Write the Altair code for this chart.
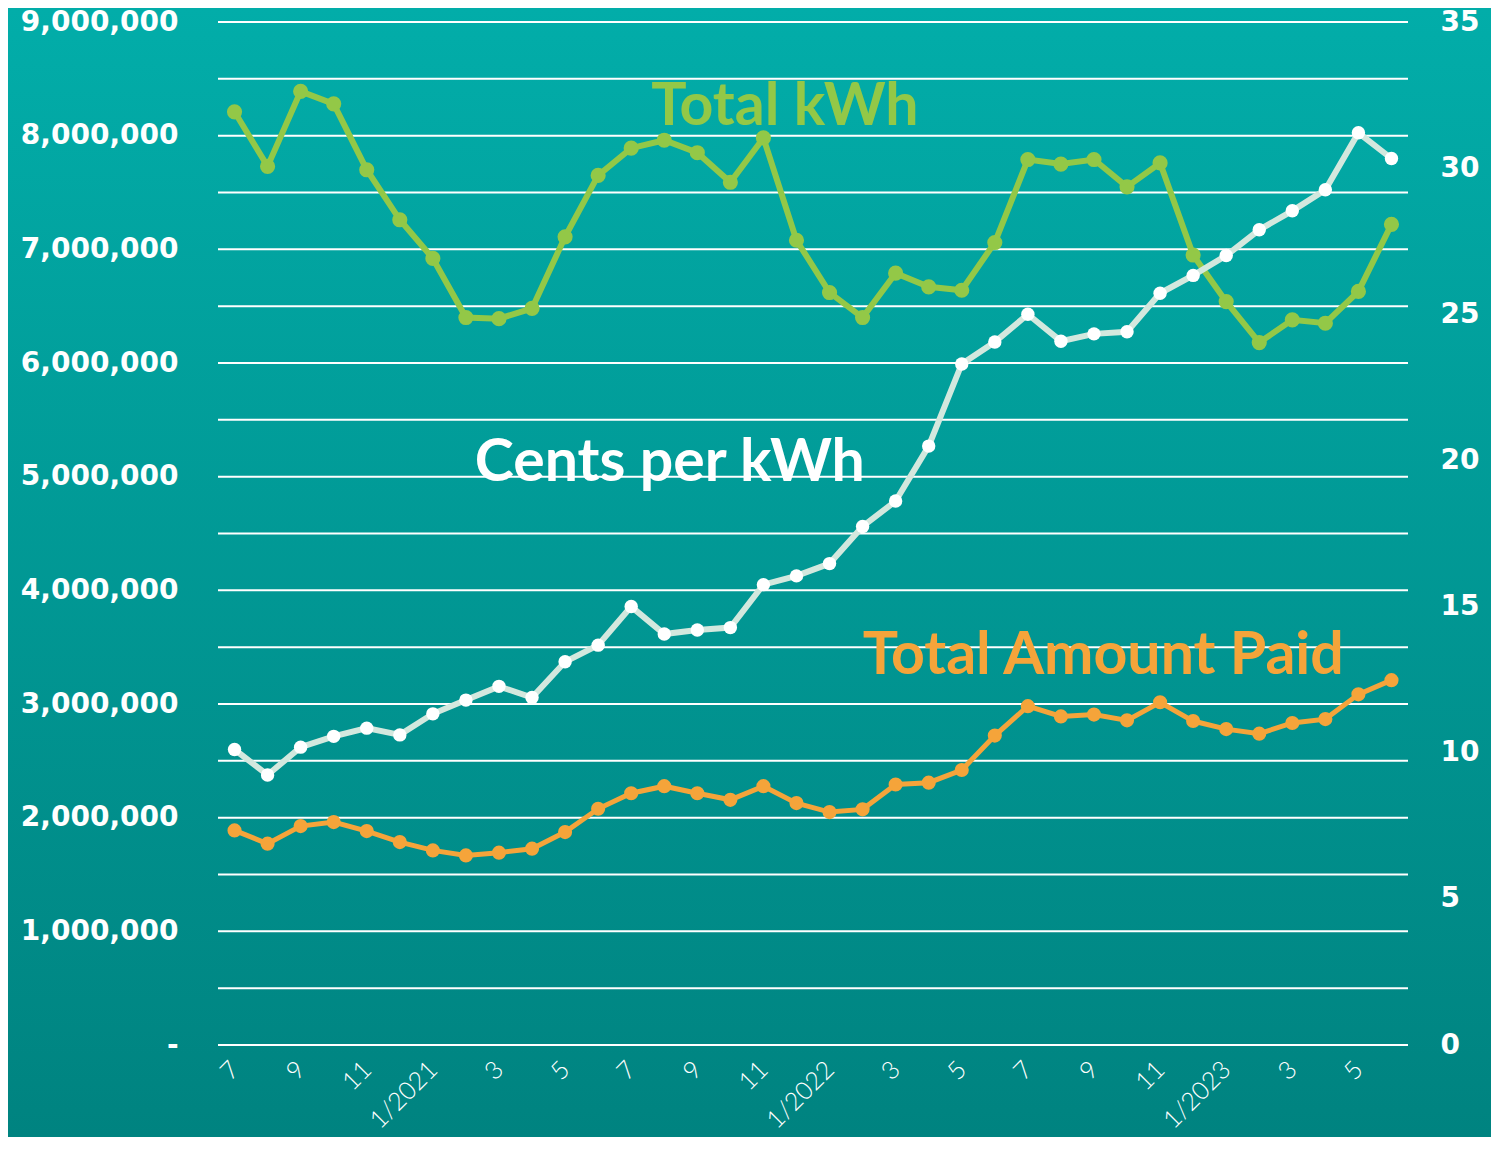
import altair as alt
import pandas as pd

# ---- data ----
month_labels = ["7", "8", "9", "10", "11", "12",
                "1/2021", "2", "3", "4", "5", "6", "7", "8", "9", "10", "11", "12",
                "1/2022", "2", "3", "4", "5", "6", "7", "8", "9", "10", "11", "12",
                "1/2023", "2", "3", "4", "5", "6"]

total_kwh = [8.21, 7.73, 8.39, 8.28, 7.70, 7.26, 6.92, 6.40, 6.39, 6.48, 7.11, 7.65,
             7.89, 7.96, 7.85, 7.59, 7.98, 7.08, 6.62, 6.40, 6.79, 6.67, 6.64, 7.06,
             7.79, 7.75, 7.79, 7.55, 7.76, 6.95, 6.54, 6.18, 6.38, 6.35, 6.63, 7.22]
total_kwh = [v * 1_000_000 for v in total_kwh]

cents_per_kwh = [10.11, 9.24, 10.19, 10.56, 10.84, 10.61, 11.33, 11.80, 12.27, 11.89,
                 13.11, 13.68, 15.00, 14.06, 14.20, 14.28, 15.75, 16.05, 16.47, 17.74,
                 18.61, 20.49, 23.30, 24.05, 25.00, 24.08, 24.33, 24.40, 25.72, 26.33,
                 27.01, 27.89, 28.54, 29.26, 31.21, 30.33]

amount_paid = [1.888, 1.771, 1.926, 1.961, 1.882, 1.785, 1.712, 1.668, 1.692, 1.727,
               1.873, 2.078, 2.215, 2.277, 2.215, 2.157, 2.277, 2.128, 2.049, 2.073,
               2.292, 2.308, 2.419, 2.722, 2.981, 2.891, 2.907, 2.856, 3.015, 2.850,
               2.779, 2.739, 2.833, 2.867, 3.085, 3.210]
amount_paid = [v * 1_000_000 for v in amount_paid]

left_ticks = [0, 1_000_000, 2_000_000, 3_000_000, 4_000_000, 5_000_000,
              6_000_000, 7_000_000, 8_000_000, 9_000_000]
grid_values = [i * 500_000 for i in range(19)]
right_ticks = [0, 5, 10, 15, 20, 25, 30, 35]

# series name labels: (text, month index, value on left axis)
label_text = ["Total kWh", "Cents per kWh", "Total Amount Paid"]
label_idx = [16.65, 13.17, 26.28]
label_val = [8_254_000, 5_119_000, 3_424_000]
label_color = ["#93C847", "#FFFFFF", "#F5A43A"]

# ---- build tables ----
idx = list(range(len(month_labels)))
df = pd.DataFrame({"i": idx, "kwh": total_kwh, "cents": cents_per_kwh, "paid": amount_paid})
grid_df = pd.DataFrame({"g": grid_values})
lab_df = pd.DataFrame({"t": label_text, "i": label_idx, "v": label_val, "c": label_color})
bg_df = pd.DataFrame({"a": [0]})

W, H = 1190, 1023
PAD = {"left": 210, "top": 14, "right": 83, "bottom": 92}

GREEN = "#93C847"
WHITE_LINE = "#D3E8DE"
ORANGE = "#F5A43A"

left_scale = alt.Scale(domain=[0, 9_000_000], nice=False, zero=True)
right_scale = alt.Scale(domain=[0, 35], nice=False, zero=True)
x_scale = alt.Scale(domain=[-0.5, len(idx) - 0.5], nice=False, zero=False)

label_array = "[" + ",".join("'" + s + "'" for s in month_labels) + "]"
x_axis = alt.Axis(
    values=idx[::2], labelExpr=label_array + "[datum.value]",
    grid=False, ticks=False, domain=False, title=None,
    labelAngle=-45, labelAlign="right", labelBaseline="middle",
    labelPadding=20, labelFont="Lato", labelFontWeight=300, labelFontSize=25,
    labelColor="white", labelOverlap=False, zindex=1,
)
x_enc = alt.X("i:Q", scale=x_scale, axis=x_axis)

nb = "\u00a0"
left_axis = alt.Axis(
    values=left_ticks, orient="left", grid=False, ticks=False, domain=False, title=None,
    labelExpr="datum.value == 0 ? '-" + nb * 4 + "' : format(datum.value, ',')",
    labelFont="DejaVu Sans", labelFontWeight="bold", labelFontSize=28,
    labelColor="white", labelPadding=40, zindex=1,
)
right_axis = alt.Axis(
    values=right_ticks, orient="right", grid=False, ticks=False, domain=False, title=None,
    labelFont="DejaVu Sans", labelFontWeight="bold", labelFontSize=28,
    labelColor="white", labelPadding=32, labelAlign="left", zindex=1,
)

gradient = alt.LinearGradient(
    gradient="linear",
    stops=[alt.GradientStop(offset=0, color="#02ADA9"),
           alt.GradientStop(offset=1, color="#008380")],
    x1=0, x2=0, y1=0, y2=1,
)

bg = alt.Chart(bg_df).mark_rect(color=gradient).encode(
    x=alt.value(-PAD["left"]), x2=alt.value(W + PAD["right"]),
    y=alt.value(-PAD["top"]), y2=alt.value(H + PAD["bottom"]),
)

grid = alt.Chart(grid_df).mark_rule(color="white", strokeWidth=2).encode(
    y=alt.Y("g:Q", scale=left_scale, axis=None),
    x=alt.value(0), x2=alt.value(W),
)

base = alt.Chart(df)

green = base.mark_line(
    color=GREEN, strokeWidth=6,
    point=alt.OverlayMarkDef(filled=True, color=GREEN, size=230, opacity=1),
).encode(x=x_enc, y=alt.Y("kwh:Q", scale=left_scale, axis=left_axis))

white = base.mark_line(
    color=WHITE_LINE, strokeWidth=6,
    point=alt.OverlayMarkDef(filled=True, color="white", size=180, opacity=1),
).encode(x=x_enc, y=alt.Y("cents:Q", scale=right_scale, axis=right_axis))

orange = base.mark_line(
    color=ORANGE, strokeWidth=5,
    point=alt.OverlayMarkDef(filled=True, color=ORANGE, size=200, opacity=1),
).encode(x=x_enc, y=alt.Y("paid:Q", scale=left_scale, axis=None))

labels = alt.Chart(lab_df).mark_text(
    font="Lato", fontWeight="bold", fontSize=59, align="center", baseline="middle",
).encode(
    x=x_enc,
    y=alt.Y("v:Q", scale=left_scale, axis=None),
    text="t:N",
    color=alt.Color("c:N", scale=None, legend=None),
)

chart = alt.layer(bg, grid, green, white, orange, labels).resolve_scale(
    y="independent"
).properties(
    width=W, height=H,
    autosize=alt.AutoSizeParams(type="none"),
    padding=PAD,
).configure_view(stroke=None).configure(background="white")

chart.save("out.html", embed_options={"renderer": "svg", "actions": False})
